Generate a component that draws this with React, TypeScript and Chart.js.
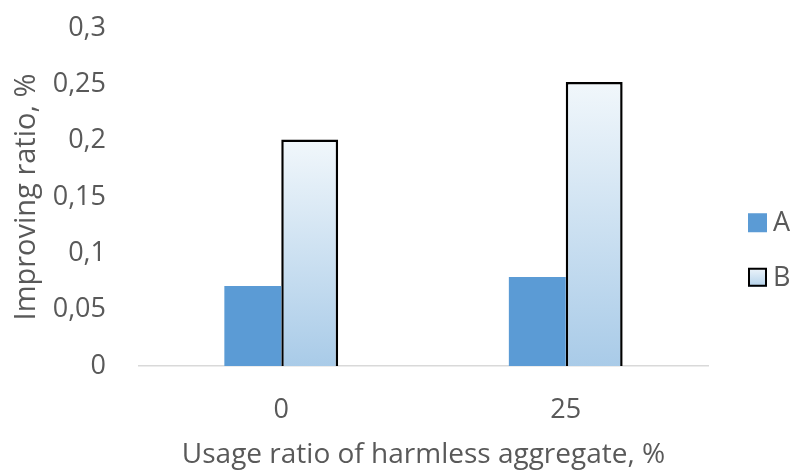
import React, { useEffect, useRef } from "react";
import { Chart, registerables } from "chart.js";

Chart.register(...registerables);

const categories = ["0", "25"];
const seriesA = [0.071, 0.079];
const seriesB = [0.201, 0.252];
const seriesNames = ["A", "B"];
const yTicks = [0, 0.05, 0.1, 0.15, 0.2, 0.25, 0.3];

const TEXT = "#595959";
const FONT = "'Open Sans', 'Segoe UI', sans-serif";

const legendPlugin = {
  id: "customLegend",
  afterDraw(chart: any) {
    const { ctx, chartArea } = chart;
    const x = chartArea.right + 40;
    const cy = chart.height / 2 + 15;
    const step = 54.5;
    const size = 19;
    chart.data.datasets.forEach((ds: any, i: number) => {
      const y = cy + (i - 0.5) * step;
      ctx.save();
      if (i === 0) {
        ctx.fillStyle = "#5b9bd5";
        ctx.fillRect(x, y - size / 2, size, size);
      } else {
        const g = ctx.createLinearGradient(0, y - size / 2, 0, y + size / 2);
        g.addColorStop(0, "#eef5fb");
        g.addColorStop(1, "#b2d1ea");
        ctx.fillStyle = g;
        ctx.fillRect(x, y - size / 2, size, size);
        ctx.strokeStyle = "#000";
        ctx.lineWidth = 2;
        ctx.strokeRect(x + 1, y - size / 2 + 1, size - 2, size - 2);
      }
      ctx.fillStyle = TEXT;
      ctx.font = `27px ${FONT}`;
      ctx.textBaseline = "middle";
      ctx.textAlign = "left";
      ctx.fillText(ds.label, x + size + 6, y + 1);
      ctx.restore();
    });
  },
};

export default function App() {
  const ref = useRef<HTMLCanvasElement>(null);
  useEffect(() => {
    document.body.style.margin = "0";
    const canvas = ref.current!;
    const chart = new Chart(canvas, {
      type: "bar",
      data: {
        labels: categories,
        datasets: [
          {
            label: seriesNames[0],
            data: seriesA,
            backgroundColor: "#5b9bd5",
            borderWidth: 0,
            categoryPercentage: 0.4,
            barPercentage: 1,
          },
          {
            label: seriesNames[1],
            data: seriesB,
            backgroundColor: (c: any) => {
              const chart = c.chart;
              if (!chart.chartArea || c.raw === undefined) return "#c9def0";
              const y = chart.scales.y;
              const top = y.getPixelForValue(c.raw);
              const bottom = y.getPixelForValue(0);
              const g = chart.ctx.createLinearGradient(0, top, 0, bottom);
              g.addColorStop(0, "#f1f7fb");
              g.addColorStop(1, "#a9cbe8");
              return g;
            },
            borderColor: "#000000",
            borderWidth: { top: 2.5, left: 2.5, right: 2.5, bottom: 0 },
            borderSkipped: false,
            categoryPercentage: 0.4,
            barPercentage: 1,
          },
        ],
      },
      options: {
        animation: false,
        responsive: false,
        layout: { padding: { left: 8, top: 28, right: 87, bottom: 0 } },
        plugins: {
          legend: { display: false },
          tooltip: { enabled: false },
        },
        scales: {
          x: {
            grid: { display: false, drawTicks: false },
            border: { display: true, color: "#d9d9d9", width: 1.5 },
            ticks: { color: TEXT, font: { family: FONT, size: 27 }, padding: 28 },
            title: {
              display: true,
              text: "Usage ratio of harmless aggregate, %",
              color: TEXT,
              font: { family: FONT, size: 28 },
              padding: { top: 0, bottom: -2 },
            },
            afterFit: (s: any) => {
              s.height = 104;
            },
          },
          y: {
            min: 0,
            max: 0.3,
            grid: { display: false, drawTicks: false },
            border: { display: false },
            afterBuildTicks: (s: any) => {
              s.ticks = yTicks.map((v) => ({ value: v }));
            },
            ticks: {
              color: TEXT,
              font: { family: FONT, size: 27 },
              padding: 33,
              callback: (v: any) => String(Number(v)).replace(".", ","),
            },
            title: {
              display: true,
              text: "Improving ratio, %",
              color: TEXT,
              font: { family: FONT, size: 29 },
              padding: { top: 1, bottom: 0 },
            },
            afterFit: (s: any) => {
              s.width = 131;
              s.paddingTop = 0;
              s.paddingBottom = 0;
            },
          },
        },
      },
      plugins: [legendPlugin],
    });
    return () => chart.destroy();
  }, []);
  return (
    <div style={{ width: 795, height: 470 }}>
      <canvas ref={ref} width={795} height={470} style={{ display: "block" }} />
    </div>
  );
}
